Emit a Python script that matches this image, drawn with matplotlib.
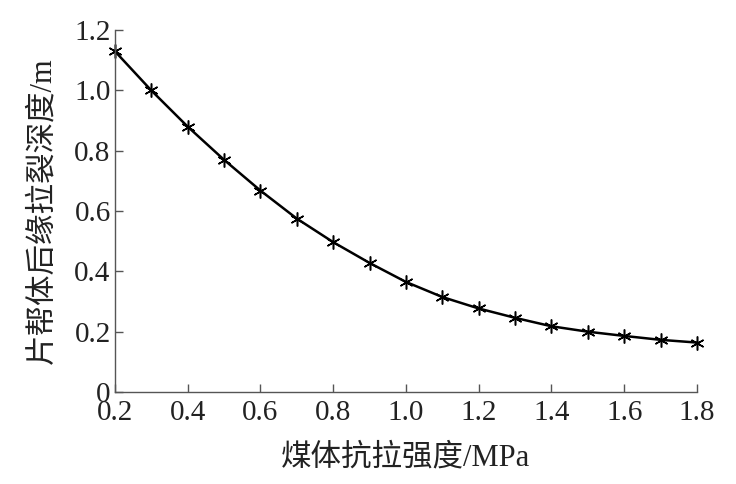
import matplotlib
matplotlib.use("Agg")
import matplotlib.pyplot as plt

plt.rcParams['font.family'] = ['Liberation Serif', 'Noto Sans CJK SC']
plt.rcParams['mathtext.fontset'] = 'stix'

strength = [0.2, 0.3, 0.4, 0.5, 0.6, 0.7, 0.8, 0.9, 1.0, 1.1, 1.2, 1.3, 1.4, 1.5, 1.6, 1.7, 1.8]
depth = [1.13, 1.0, 0.88, 0.77, 0.668, 0.575, 0.497, 0.428, 0.365, 0.315, 0.277,
         0.246, 0.218, 0.2, 0.186, 0.173, 0.164]
xticks = [0.2, 0.4, 0.6, 0.8, 1.0, 1.2, 1.4, 1.6, 1.8]
xticklabels = ['0.2', '0.4', '0.6', '0.8', '1.0', '1.2', '1.4', '1.6', '1.8']
yticks = [0, 0.2, 0.4, 0.6, 0.8, 1.0, 1.2]
yticklabels = ['0', '0.2', '0.4', '0.6', '0.8', '1.0', '1.2']
xlabel = '煤体抗拉强度/MPa'
ylabel = '片帮体后缘拉裂深度/m'

fig = plt.figure(figsize=(7.36, 4.84), dpi=100)
ax = fig.add_axes([0.156, 0.19, 0.791, 0.748])
ax.plot(strength, depth, color='black', linewidth=1.8,
        marker=(6, 2, 0), markersize=10, markeredgewidth=1.1,
        markeredgecolor='black', clip_on=False)
ax.set_xlim(0.2, 1.8)
ax.set_ylim(0, 1.2)
ax.set_xticks(xticks)
ax.set_xticklabels(xticklabels)
ax.set_yticks(yticks)
ax.set_yticklabels(yticklabels)
for s in ['top', 'right']:
    ax.spines[s].set_visible(False)
for s in ['left', 'bottom']:
    ax.spines[s].set_color('#555555')
    ax.spines[s].set_linewidth(1.0)
ax.tick_params(direction='in', length=6, width=1.0, color='#555555',
               labelsize=21, labelcolor='#222222')
ax.tick_params(axis='y', pad=3)
ax.tick_params(axis='x', pad=6)
ax.set_xlabel(xlabel, fontsize=22, labelpad=12, fontweight='light', color='#222222')
ax.set_ylabel(ylabel, fontsize=22, labelpad=12, fontweight='light', color='#222222')
fig.savefig('out.png', dpi=100)
